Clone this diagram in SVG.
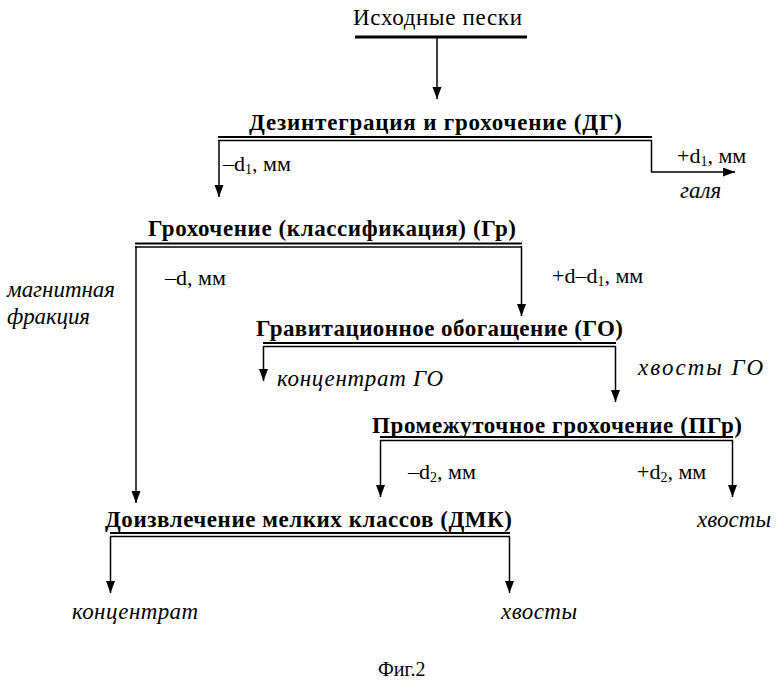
<svg xmlns="http://www.w3.org/2000/svg" width="780" height="688" viewBox="0 0 780 688">
<defs>
<marker id="ah" markerUnits="userSpaceOnUse" markerWidth="12" markerHeight="10" refX="12" refY="4.5" orient="auto">
<path d="M0,0 L12,4.5 L0,9 z" fill="#000"/>
</marker>
<style>
text{font-family:"Liberation Serif","Times New Roman",serif;fill:#000}
.h{font-size:23px;font-weight:bold}
.n{font-size:22px}
.i{font-size:23px;font-style:italic}
.bar1{stroke:#000;stroke-width:2;fill:none}
.bar2{stroke:#000;stroke-width:1.5;fill:none}
.a{stroke:#000;stroke-width:1.5;fill:none;marker-end:url(#ah)}
.sub{font-size:14px}
</style>
</defs>
<rect width="780" height="688" fill="#fff"/>

<g id="src">
<text x="353" y="25" style="font-size:23px" textLength="169" lengthAdjust="spacing">Исходные  пески</text>
<line x1="355" y1="37" x2="527" y2="37" stroke="#000" stroke-width="3"/>
</g>

<g id="dg">
<text class="h" x="249" y="130" textLength="373" lengthAdjust="spacing">Дезинтеграция  и  грохочение  (ДГ)</text>
<line class="bar1" x1="218" y1="137" x2="652" y2="137"/>
<line class="bar2" x1="218" y1="140.5" x2="652" y2="140.5"/>
</g>

<g id="gr">
<text class="h" x="148" y="236" textLength="368" lengthAdjust="spacing">Грохочение  (классификация)  (Гр)</text>
<line class="bar1" x1="135" y1="243.5" x2="522" y2="243.5"/>
<line class="bar2" x1="135" y1="247" x2="522" y2="247"/>
</g>

<g id="go">
<text class="h" x="256" y="336" textLength="367" lengthAdjust="spacing">Гравитационное  обогащение  (ГО)</text>
<line class="bar1" x1="263" y1="343" x2="616" y2="343"/>
<line class="bar2" x1="263" y1="346.5" x2="616" y2="346.5"/>
</g>

<g id="pgr">
<text class="h" x="372" y="433" textLength="370" lengthAdjust="spacing">Промежуточное  грохочение  (ПГр)</text>
<line class="bar1" x1="380" y1="437" x2="733" y2="437"/>
<line class="bar2" x1="380" y1="440.5" x2="733" y2="440.5"/>
</g>

<g id="dmk">
<text class="h" x="105" y="527" textLength="407" lengthAdjust="spacing">Доизвлечение  мелких  классов  (ДМК)</text>
<line class="bar1" x1="110" y1="533" x2="510" y2="533"/>
<line class="bar2" x1="110" y1="536.5" x2="510" y2="536.5"/>
</g>

<g id="connectors">
<line class="a" x1="437" y1="38" x2="437" y2="99"/>
<line class="a" x1="219" y1="140" x2="219" y2="197"/>
<polyline class="a" points="651.5,140 651.5,172 735,172"/>
<line class="a" x1="136" y1="246" x2="136" y2="503"/>
<line class="a" x1="521.5" y1="246" x2="521.5" y2="316"/>
<line class="a" x1="263.5" y1="346" x2="263.5" y2="381"/>
<line class="a" x1="615.5" y1="346" x2="615.5" y2="402"/>
<line class="a" x1="380.5" y1="440" x2="380.5" y2="497"/>
<line class="a" x1="732.5" y1="440" x2="732.5" y2="497"/>
<line class="a" x1="110.5" y1="536" x2="110.5" y2="593"/>
<line class="a" x1="509.5" y1="536" x2="509.5" y2="593"/>
</g>

<g id="labels">
<text class="n" x="223" y="171">–d<tspan class="sub" dy="3">1</tspan><tspan dy="-3">, мм</tspan></text>
<text class="n" x="677" y="163">+d<tspan class="sub" dy="3">1</tspan><tspan dy="-3">, мм</tspan></text>
<text class="i" x="680" y="198">галя</text>
<text class="n" x="165" y="285">–d, мм</text>
<text class="n" x="552" y="283">+d–d<tspan class="sub" dy="3">1</tspan><tspan dy="-3">, мм</tspan></text>
<text class="i" x="7" y="297" textLength="108" lengthAdjust="spacing">магнитная</text>
<text class="i" x="7" y="324" textLength="83" lengthAdjust="spacing">фракция</text>
<text class="i" x="277" y="386" textLength="166" lengthAdjust="spacing">концентрат  ГО</text>
<text class="i" x="638" y="375" textLength="125" lengthAdjust="spacing">хвосты  ГО</text>
<text class="n" x="408" y="479">–d<tspan class="sub" dy="3">2</tspan><tspan dy="-3">, мм</tspan></text>
<text class="n" x="637" y="479">+d<tspan class="sub" dy="3">2</tspan><tspan dy="-3">, мм</tspan></text>
<text class="i" x="697" y="527" textLength="74" lengthAdjust="spacing">хвосты</text>
<text class="i" x="72" y="619" textLength="126" lengthAdjust="spacing">концентрат</text>
<text class="i" x="501" y="619" textLength="76" lengthAdjust="spacing">хвосты</text>
<text x="378" y="676" style="font-size:20px">Фиг.2</text>
</g>
</svg>
